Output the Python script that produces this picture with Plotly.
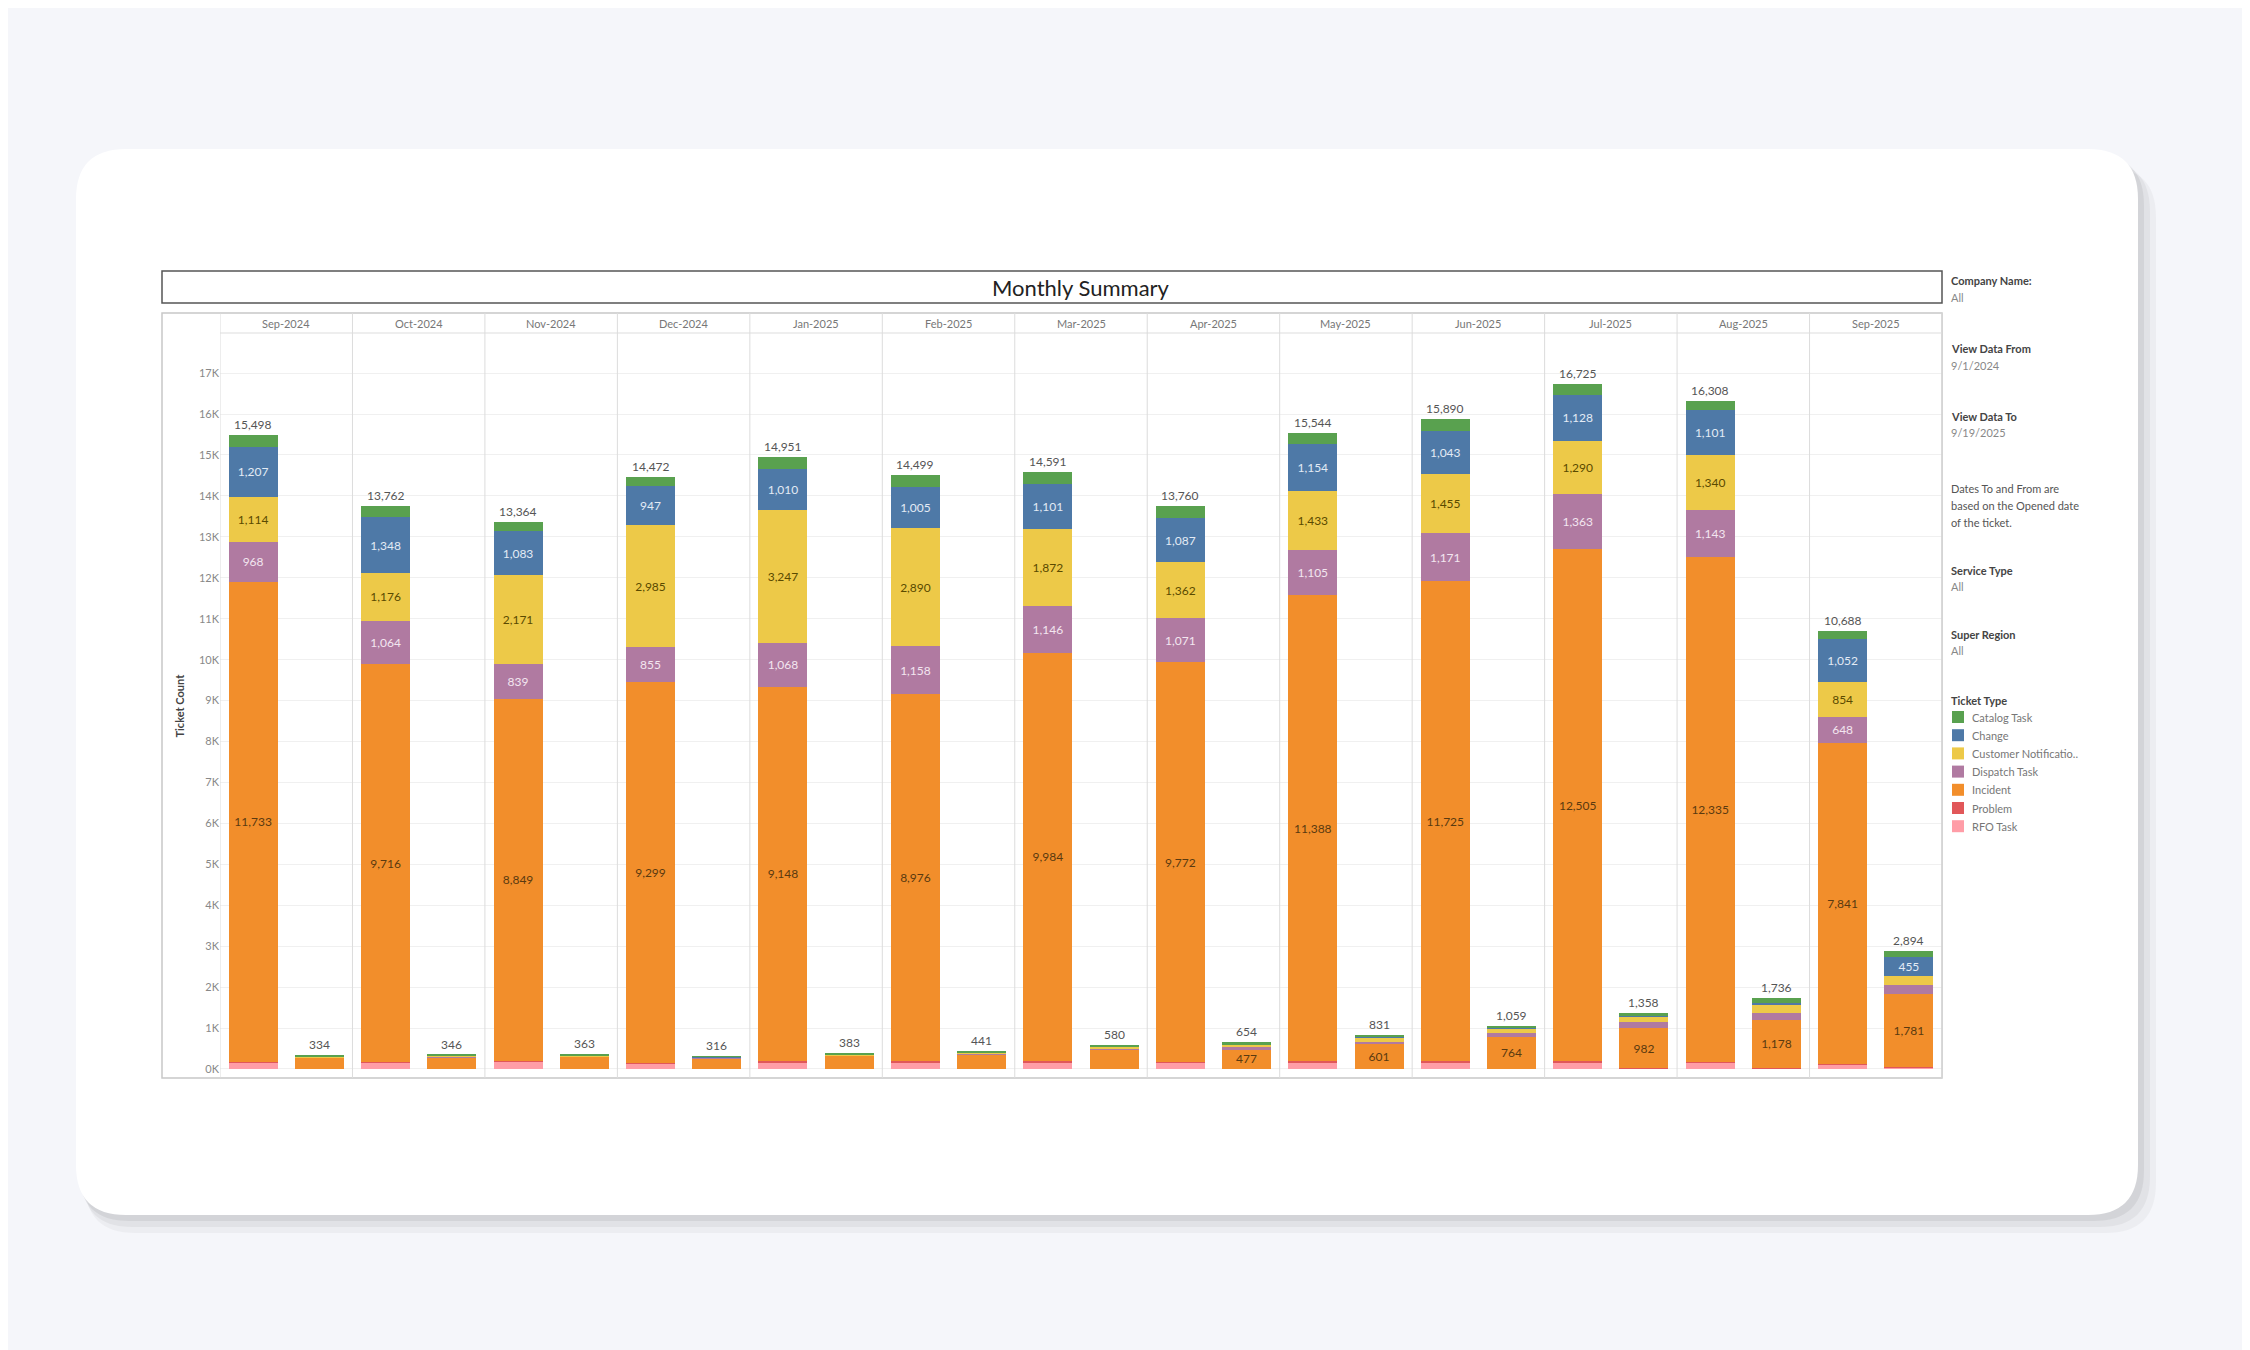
import plotly.graph_objects as go

months = ["Sep-2024","Oct-2024","Nov-2024","Dec-2024","Jan-2025","Feb-2025","Mar-2025",
          "Apr-2025","May-2025","Jun-2025","Jul-2025","Aug-2025","Sep-2025"]
types = ["RFO Task","Problem","Incident","Dispatch Task","Customer Notificatio..","Change","Catalog Task"]
colors = ["#ff9da7","#e15759","#f28e2b","#b07aa1","#edc948","#4e79a7","#59a14f"]

# Main (left) bar of each month
big_rfo      = [150,150,180,130,170,170,170,150,170,170,170,150,100]
big_problem  = [20,20,20,20,20,20,20,20,20,20,20,20,20]
big_incident = [11733,9716,8849,9299,9148,8976,9984,9772,11388,11725,12505,12335,7841]
big_dispatch = [968,1064,839,855,1068,1158,1146,1071,1105,1171,1363,1143,648]
big_cn       = [1114,1176,2171,2985,3247,2890,1872,1362,1433,1455,1290,1340,854]
big_change   = [1207,1348,1083,947,1010,1005,1101,1087,1154,1043,1128,1101,1052]
big_total    = [15498,13762,13364,14472,14951,14499,14591,13760,15544,15890,16725,16308,10688]
big_catalog  = [t-a-b-c-d-e-f for t,a,b,c,d,e,f in zip(big_total,big_rfo,big_problem,big_incident,big_dispatch,big_cn,big_change)]

# Secondary (right) bar of each month
sm_rfo      = [5,5,5,5,5,5,5,5,5,5,10,10,30]
sm_problem  = [5,5,5,5,5,5,5,5,5,5,10,18,20]
sm_incident = [270,280,295,255,310,355,470,477,601,764,982,1178,1781]
sm_dispatch = [10,10,10,10,10,15,20,40,60,110,150,160,210]
sm_cn       = [20,20,20,15,25,30,40,60,90,100,130,210,240]
sm_change   = [5,5,5,5,5,5,10,10,15,20,20,30,455]
sm_total    = [334,346,363,316,383,441,580,654,831,1059,1358,1736,2894]
sm_catalog  = [t-a-b-c-d-e-f for t,a,b,c,d,e,f in zip(sm_total,sm_rfo,sm_problem,sm_incident,sm_dispatch,sm_cn,sm_change)]
sm_inc_labeled = [False]*7 + [True]*6
sm_chg_labeled = [False]*12 + [True]

big = [big_rfo,big_problem,big_incident,big_dispatch,big_cn,big_change,big_catalog]
sm = [sm_rfo,sm_problem,sm_incident,sm_dispatch,sm_cn,sm_change,sm_catalog]
label_colors = [None,None,"#5a3a10","#f3e6f0","#5a4a00","#e3ebf5",None]

n = len(months)
xb = [i-0.25 for i in range(n)]
xs = [i+0.25 for i in range(n)]
fmt = lambda v: f"{v:,}"

fig = go.Figure()
for k in range(7):
    tb = [fmt(v) if k in (2,3,4,5) else "" for v in big[k]]
    if k == 2:
        ts = [fmt(v) if f else "" for v,f in zip(sm[k],sm_inc_labeled)]
    elif k == 5:
        ts = [fmt(v) if f else "" for v,f in zip(sm[k],sm_chg_labeled)]
    else:
        ts = [""]*n
    fig.add_trace(go.Bar(x=xb+xs, y=big[k]+sm[k], text=tb+ts, marker_color=colors[k],
                         marker_line_width=0, width=0.37, name=types[k],
                         textposition="inside", insidetextanchor="middle", textangle=0,
                         constraintext="none",
                         textfont=dict(color=label_colors[k] or "#333", size=12, family="Lato")))
for x,t in zip(xb+xs, big_total+sm_total):
    fig.add_annotation(x=x, y=t, text=fmt(t), showarrow=False, yanchor="bottom", yshift=1,
                       font=dict(size=12, color="#555", family="Lato"))

OFF = 8  # page body margin compensation
L,R,T,B = 220-OFF,1942-OFF,333-OFF,1078-OFF
def px(x): return (x-OFF-L)/(R-L)
def py(y): return (B-(y-OFF))/(B-T)
def rrd(x0,y0,x1,y1,r):
    X0,X1=px(x0),px(x1); Y0,Y1=py(y0),py(y1)
    rx=r/(R-L); ry=r/(B-T)
    return (f"M{X0+rx},{Y0} L{X1-rx},{Y0} Q{X1},{Y0} {X1},{Y0-ry} L{X1},{Y1+ry} Q{X1},{Y1} {X1-rx},{Y1} "
            f"L{X0+rx},{Y1} Q{X0},{Y1} {X0},{Y1+ry} L{X0},{Y0-ry} Q{X0},{Y0} {X0+rx},{Y0} Z")
shapes = []
for d,a in [(18,0.035),(12,0.045),(6,0.06)]:
    shapes.append(dict(type="path", path=rrd(76+d/2,149+d,2138+d,1215+d,50), xref="paper", yref="paper",
                       fillcolor=f"rgba(0,0,0,{a})", line_width=0, layer="below"))
shapes.append(dict(type="path", path=rrd(76,149,2138,1215,50), xref="paper", yref="paper",
                   fillcolor="white", line_width=0, layer="below"))
shapes.append(dict(type="rect", xref="paper", yref="paper", x0=px(162), x1=px(1942), y0=py(303), y1=py(271),
                   line=dict(color="#555", width=1.5), fillcolor="rgba(0,0,0,0)"))
shapes.append(dict(type="rect", xref="paper", yref="paper", x0=px(162), x1=px(1942), y0=0, y1=py(313),
                   line=dict(color="#c8c8c8", width=1.5), fillcolor="rgba(0,0,0,0)"))
shapes.append(dict(type="line", xref="paper", yref="paper", x0=0, x1=1, y0=1, y1=1, line=dict(color="#ddd", width=1)))
for i in range(n+1):
    shapes.append(dict(type="line", xref="x", yref="paper", x0=i-0.5, x1=i-0.5, y0=0, y1=py(313),
                       line=dict(color="#dcdcdc", width=1)))
fig.update_layout(shapes=shapes)

for i,m in enumerate(months):
    fig.add_annotation(x=i, y=py(323), xref="x", yref="paper", text=m, showarrow=False, yanchor="middle",
                       font=dict(size=11, color="#777", family="Lato"))
fig.add_annotation(x=0.5, y=py(287), xref="paper", yref="paper", text="Monthly Summary", showarrow=False,
                   xanchor="center", yanchor="middle", font=dict(size=22, color="#222", family="Lato"))
fig.add_annotation(x=px(179), y=0.5, xref="paper", yref="paper", text="<b>Ticket Count</b>", showarrow=False,
                   xanchor="center", yanchor="middle",
                   textangle=-90, font=dict(size=11, color="#444", family="Lato"))

side = [("Company Name:",281,True),("All",297,False),("View Data From",349,True),("9/1/2024",365,False),
        ("View Data To",416,True),("9/19/2025",432,False),("Dates To and From are",488,False),
        ("based on the Opened date",505,False),("of the ticket.",522,False),("Service Type",570,True),
        ("All",586,False),("Super Region",634,True),("All",650,False),("Ticket Type",700,True)]
for t,y,b in side:
    fig.add_annotation(x=px(1949), y=py(y), xref="paper", yref="paper", text=f"<b>{t}</b>" if b else t,
                       showarrow=False, xanchor="left", yanchor="middle",
                       font=dict(size=11, color="#444" if b else ("#555" if y in (488,505,522) else "#888"), family="Lato"))
leg_names = ["Catalog Task","Change","Customer Notificatio..","Dispatch Task","Incident","Problem","RFO Task"]
leg_cols = ["#59a14f","#4e79a7","#edc948","#b07aa1","#f28e2b","#e15759","#ff9da7"]
for j,(nm,c) in enumerate(zip(leg_names,leg_cols)):
    y = 717 + j*18.2
    fig.add_shape(type="rect", xref="paper", yref="paper", x0=px(1952), x1=px(1964), y0=py(y+6), y1=py(y-6),
                  fillcolor=c, line_width=0)
    fig.add_annotation(x=px(1970), y=py(y), xref="paper", yref="paper", text=nm, showarrow=False,
                       xanchor="left", yanchor="middle", font=dict(size=11, color="#777", family="Lato"))

fig.update_layout(
    width=2250, height=1350, barmode="stack", showlegend=False,
    paper_bgcolor="#f5f6fa", plot_bgcolor="rgba(0,0,0,0)",
    margin=dict(l=L, r=2250-R, t=T, b=1350-B),
    xaxis=dict(range=[-0.5, n-0.5], showticklabels=False, showgrid=False, zeroline=False, fixedrange=True),
    yaxis=dict(range=[-220, 17980], tickvals=[k*1000 for k in range(18)],
               ticktext=[f"{k}K" for k in range(18)], gridcolor="#f0f0f0", zeroline=False,
               tickfont=dict(size=11, color="#888", family="Lato"), ticks="", ticklen=0),
    font=dict(family="Lato"),
)
fig.write_html("out.html")
